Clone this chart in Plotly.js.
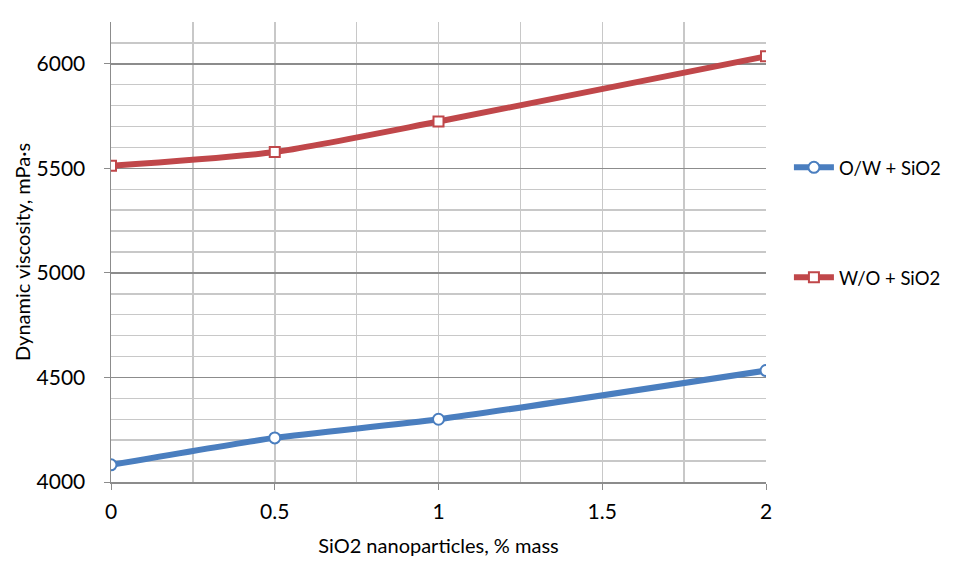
<!DOCTYPE html>
<html>
<head>
<meta charset="utf-8">
<script src="https://cdn.plot.ly/plotly-3.0.1.min.js"></script>
<style>html,body{margin:0;padding:0;background:#fff;}#chart{width:964px;height:575px;}</style>
</head>
<body>
<div id="chart"></div>
<script>
const xValues = [0, 0.5, 1, 2];
const owValues = [4082, 4211, 4300, 4533];
const woValues = [5512, 5578, 5724, 6036];
const seriesNames = ["O/W + SiO2", "W/O + SiO2"];
const xTickVals = [0, 0.5, 1, 1.5, 2];
const xTickText = ["0", "0.5", "1", "1.5", "2"];
const yTickVals = [4000, 4500, 5000, 5500, 6000];

const FONT = "Lato, 'Open Sans', sans-serif";

const traces = [
  {
    x: xValues, y: owValues, name: seriesNames[0], type: "scatter", mode: "lines+markers",
    line: {color: "#4a7ebf", width: 6, shape: "spline", smoothing: 0.6},
    marker: {symbol: "circle", size: 11, color: "#ffffff", line: {color: "#4a7ebf", width: 2}},
    legend: "legend"
  },
  {
    x: xValues, y: woValues, name: seriesNames[1], type: "scatter", mode: "lines+markers",
    line: {color: "#c0474a", width: 6, shape: "spline", smoothing: 0.6},
    marker: {symbol: "square", size: 10, color: "#ffffff", line: {color: "#c0474a", width: 2}},
    legend: "legend2"
  }
];

const layout = {
  width: 964, height: 575,
  margin: {l: 111, r: 198, t: 22, b: 93},
  paper_bgcolor: "#ffffff", plot_bgcolor: "#ffffff",
  font: {family: FONT, size: 18, color: "#000000"},
  showlegend: true,
  legend: {x: 1.035, y: 0.683, xanchor: "left", yanchor: "middle", font: {family: FONT, size: 18.5}, bgcolor: "rgba(0,0,0,0)", itemwidth: 40},
  legend2: {x: 1.035, y: 0.444, xanchor: "left", yanchor: "middle", font: {family: FONT, size: 18.5}, bgcolor: "rgba(0,0,0,0)", itemwidth: 40},
  xaxis: {
    range: [0, 2], tickvals: xTickVals, ticktext: xTickText,
    showgrid: true, gridcolor: "#c8c8c8", gridwidth: 1.5,
    minor: {dtick: 0.25, tick0: 0, showgrid: true, gridcolor: "#c8c8c8", gridwidth: 1.5},
    showline: true, linecolor: "#8c8c8c", linewidth: 1.5,
    ticks: "outside", ticklen: 6, tickcolor: "#8c8c8c", tickwidth: 1,
    ticklabelstandoff: 4,
    zeroline: false, tickfont: {size: 21},
    title: {text: "SiO2 nanoparticles, % mass", font: {size: 20}, standoff: 17}
  },
  yaxis: {
    range: [4000, 6200], tickvals: yTickVals,
    showgrid: true, gridcolor: "#8c8c8c", gridwidth: 1.5,
    minor: {dtick: 100, tick0: 4000, showgrid: true, gridcolor: "#c8c8c8", gridwidth: 1.5},
    showline: true, linecolor: "#8c8c8c", linewidth: 1.5,
    ticks: "outside", ticklen: 6, tickcolor: "#8c8c8c", tickwidth: 1,
    ticklabelstandoff: 14,
    zeroline: false, tickfont: {size: 21},
    title: {text: "Dynamic viscosity, mPa·s", font: {size: 20}, standoff: 0}
  }
};

Plotly.newPlot("chart", traces, layout, {displayModeBar: false, staticPlot: true});
</script>
</body>
</html>
